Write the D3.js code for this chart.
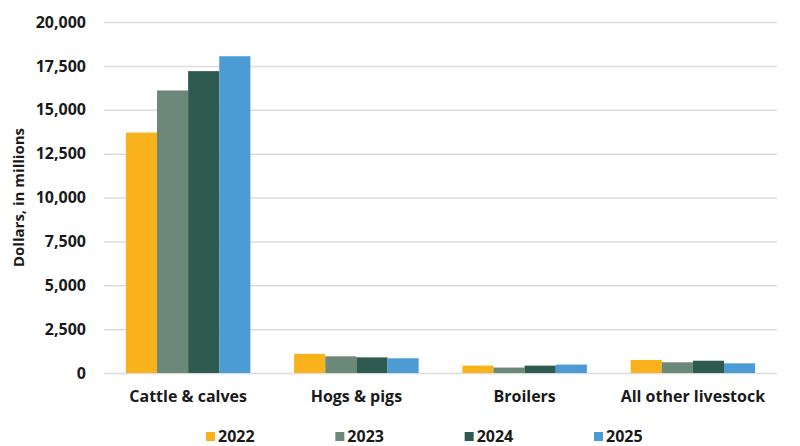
<!DOCTYPE html>
<html>
<head>
<meta charset="utf-8">
<script src="https://cdn.jsdelivr.net/npm/d3@7"></script>
<style>
  html, body { margin: 0; padding: 0; background: #fff; }
  svg text { font-family: "Open Sans", "Noto Sans", sans-serif; font-weight: 700; fill: #1a1a1a; }
</style>
</head>
<body>
<svg id="chart" width="800" height="446"></svg>
<script>
// Livestock cash receipts by category and year (millions of dollars)
const categories = ["Cattle & calves", "Hogs & pigs", "Broilers", "All other livestock"];
const years = ["2022", "2023", "2024", "2025"];
const values2022 = [13700, 1090, 420, 740];
const values2023 = [16100, 950, 310, 610];
const values2024 = [17200, 890, 420, 700];
const values2025 = [18050, 840, 480, 550];
const yTicks = [0, 2500, 5000, 7500, 10000, 12500, 15000, 17500, 20000];
const colors = ["#F9B21B", "#6B8878", "#2E5A4F", "#4B9BD5"];

const seriesValues = [values2022, values2023, values2024, values2025];
const rows = categories.map((c, i) => ({
  category: c,
  vals: years.map((y, j) => ({ year: y, value: seriesValues[j][i] }))
}));

const svg = d3.select("#chart");
const margin = { left: 104, right: 23, top: 22, bottom: 73 };
const W = 800, H = 446;

const x0 = d3.scaleBand().domain(categories)
  .range([margin.left, W - margin.right]).paddingInner(0.26).paddingOuter(0.13);
const x1 = d3.scaleBand().domain(years).range([0, x0.bandwidth()]).padding(0);
const y = d3.scaleLinear().domain([0, 20000]).range([H - margin.bottom, margin.top]);

// gridlines and y tick labels
const yAxis = d3.axisLeft(y).tickValues(yTicks)
  .tickFormat(d3.format(","))
  .tickSize(-(W - margin.left - margin.right)).tickPadding(18);
const gy = svg.append("g").attr("transform", `translate(${margin.left},0)`).call(yAxis);
gy.select(".domain").remove();
gy.selectAll(".tick line").attr("stroke", "#dcdcdc").attr("stroke-width", 1.5);
gy.selectAll(".tick text").style("font-size", "16px").attr("fill", "#1a1a1a");

// bars
const groups = svg.append("g").selectAll("g").data(rows).join("g")
  .attr("transform", d => `translate(${x0(d.category)},0)`);
groups.selectAll("rect").data(d => d.vals).join("rect")
  .attr("x", d => x1(d.year))
  .attr("width", x1.bandwidth())
  .attr("y", d => y(d.value))
  .attr("height", d => y(0) - y(d.value))
  .attr("fill", (d, i) => colors[i]);

// category axis labels
const xAxis = d3.axisBottom(x0).tickSize(0).tickPadding(18);
const gx = svg.append("g").attr("transform", `translate(0,${y(0)})`).call(xAxis);
gx.select(".domain").remove();
gx.selectAll(".tick text").style("font-size", "16px").attr("fill", "#1a1a1a");

// y axis title
svg.append("text")
  .attr("transform", `translate(24,${(margin.top + H - margin.bottom) / 2}) rotate(-90)`)
  .attr("text-anchor", "middle")
  .style("font-size", "15px")
  .text("Dollars, in millions");

// legend
const legendX = d3.scalePoint().domain(years).range([206, 594]);
const legend = svg.append("g").selectAll("g").data(years).join("g")
  .attr("transform", d => `translate(${legendX(d)},432)`);
legend.append("rect").attr("width", 9).attr("height", 9)
  .attr("fill", (d, i) => colors[i]);
legend.append("text").attr("x", 12).attr("y", 9.8)
  .style("font-size", "16px").text(d => d);
</script>
</body>
</html>
